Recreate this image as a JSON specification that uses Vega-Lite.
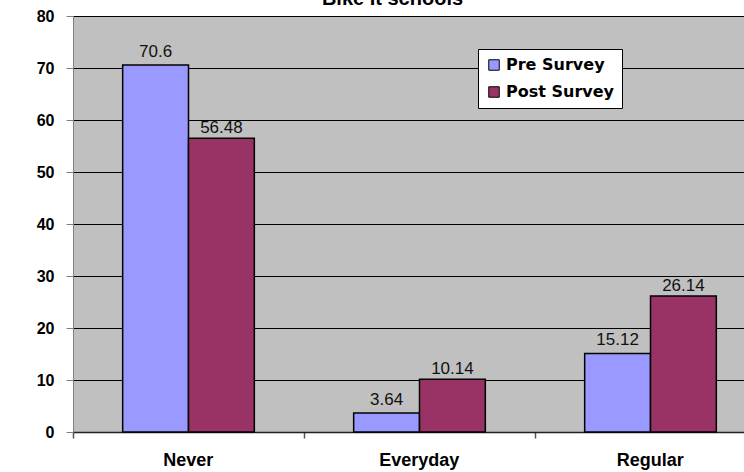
{
  "$schema": "https://vega.github.io/schema/vega-lite/v6.json",
  "width": 671,
  "height": 416,
  "autosize": {"type": "none"},
  "padding": {"left": 73, "top": 16, "right": 0, "bottom": 40},
  "background": "white",
  "title": {"text": "Bike It schools", "font": "Liberation Sans", "fontSize": 20, "fontWeight": "bold", "color": "#000000", "offset": -1, "dx": -16},
  "config": {
    "font": "Liberation Sans",
    "view": {"fill": "#C0C0C0", "stroke": "#808080", "strokeWidth": 1}
  },
  "data": {
    "values": [
      {"category": "Never", "series": "Pre Survey", "value": 70.6},
      {"category": "Never", "series": "Post Survey", "value": 56.48},
      {"category": "Everyday", "series": "Pre Survey", "value": 3.64},
      {"category": "Everyday", "series": "Post Survey", "value": 10.14},
      {"category": "Regular", "series": "Pre Survey", "value": 15.12},
      {"category": "Regular", "series": "Post Survey", "value": 26.14}
    ]
  },
  "encoding": {
    "x": {
      "field": "category",
      "type": "nominal",
      "sort": ["Never", "Everyday", "Regular"],
      "scale": {"range": [0, 693], "paddingInner": 0.43, "paddingOuter": 0.215},
      "axis": {
        "title": null,
        "labelAngle": 0,
        "labelAlign": "center",
        "labelOffset": 49,
        "labelFont": "Liberation Sans",
        "labelFontSize": 18,
        "labelFontWeight": "bold",
        "labelColor": "#000000",
        "labelPadding": 13,
        "ticks": true,
        "tickSize": 6,
        "tickWidth": 1.5,
        "bandPosition": 0,
        "tickOffset": -49.7,
        "tickColor": "#555555",
        "domainColor": "#222222",
        "domainWidth": 1.5
      }
    },
    "xOffset": {"field": "series", "sort": ["Pre Survey", "Post Survey"]},
    "y": {
      "field": "value",
      "type": "quantitative",
      "scale": {"domain": [0, 80]},
      "axis": {
        "title": null,
        "values": [0, 10, 20, 30, 40, 50, 60, 70, 80],
        "grid": true,
        "gridColor": "#000000",
        "gridOpacity": 1,
        "gridWidth": 1,
        "domainColor": "#808080",
        "tickColor": "#808080",
        "tickSize": 7,
        "labelPadding": 12,
        "labelFont": "Liberation Sans",
        "labelFontSize": 16,
        "labelFontWeight": "bold",
        "labelColor": "#000000"
      }
    }
  },
  "layer": [
    {
      "mark": {"type": "bar", "stroke": "#000000", "strokeWidth": 1.5},
      "encoding": {
        "color": {
          "field": "series",
          "type": "nominal",
          "scale": {"domain": ["Pre Survey", "Post Survey"], "range": ["#9999FF", "#993366"]},
          "legend": {
            "orient": "none",
            "legendX": 405,
            "legendY": 33,
            "title": null,
            "fillColor": "#FFFFFF",
            "strokeColor": "#000000",
            "padding": 8,
            "symbolType": "square",
            "symbolSize": 110,
            "symbolStrokeColor": "#000000",
            "symbolStrokeWidth": 1,
            "symbolOpacity": 1,
            "labelFont": "DejaVu Sans",
            "labelFontSize": 16,
            "labelFontWeight": "bold",
            "labelColor": "#000000",
            "labelOffset": 4,
            "rowPadding": 11
          }
        }
      }
    },
    {
      "transform": [{"filter": "datum.series == 'Pre Survey'"}],
      "mark": {"type": "text", "dy": -8, "baseline": "alphabetic", "font": "Liberation Sans", "fontSize": 17, "color": "#111111"},
      "encoding": {"text": {"field": "value", "type": "nominal"}}
    },
    {
      "transform": [{"filter": "datum.series == 'Post Survey'"}],
      "mark": {"type": "text", "dy": -5, "baseline": "alphabetic", "font": "Liberation Sans", "fontSize": 17, "color": "#111111"},
      "encoding": {"text": {"field": "value", "type": "nominal"}}
    }
  ]
}
